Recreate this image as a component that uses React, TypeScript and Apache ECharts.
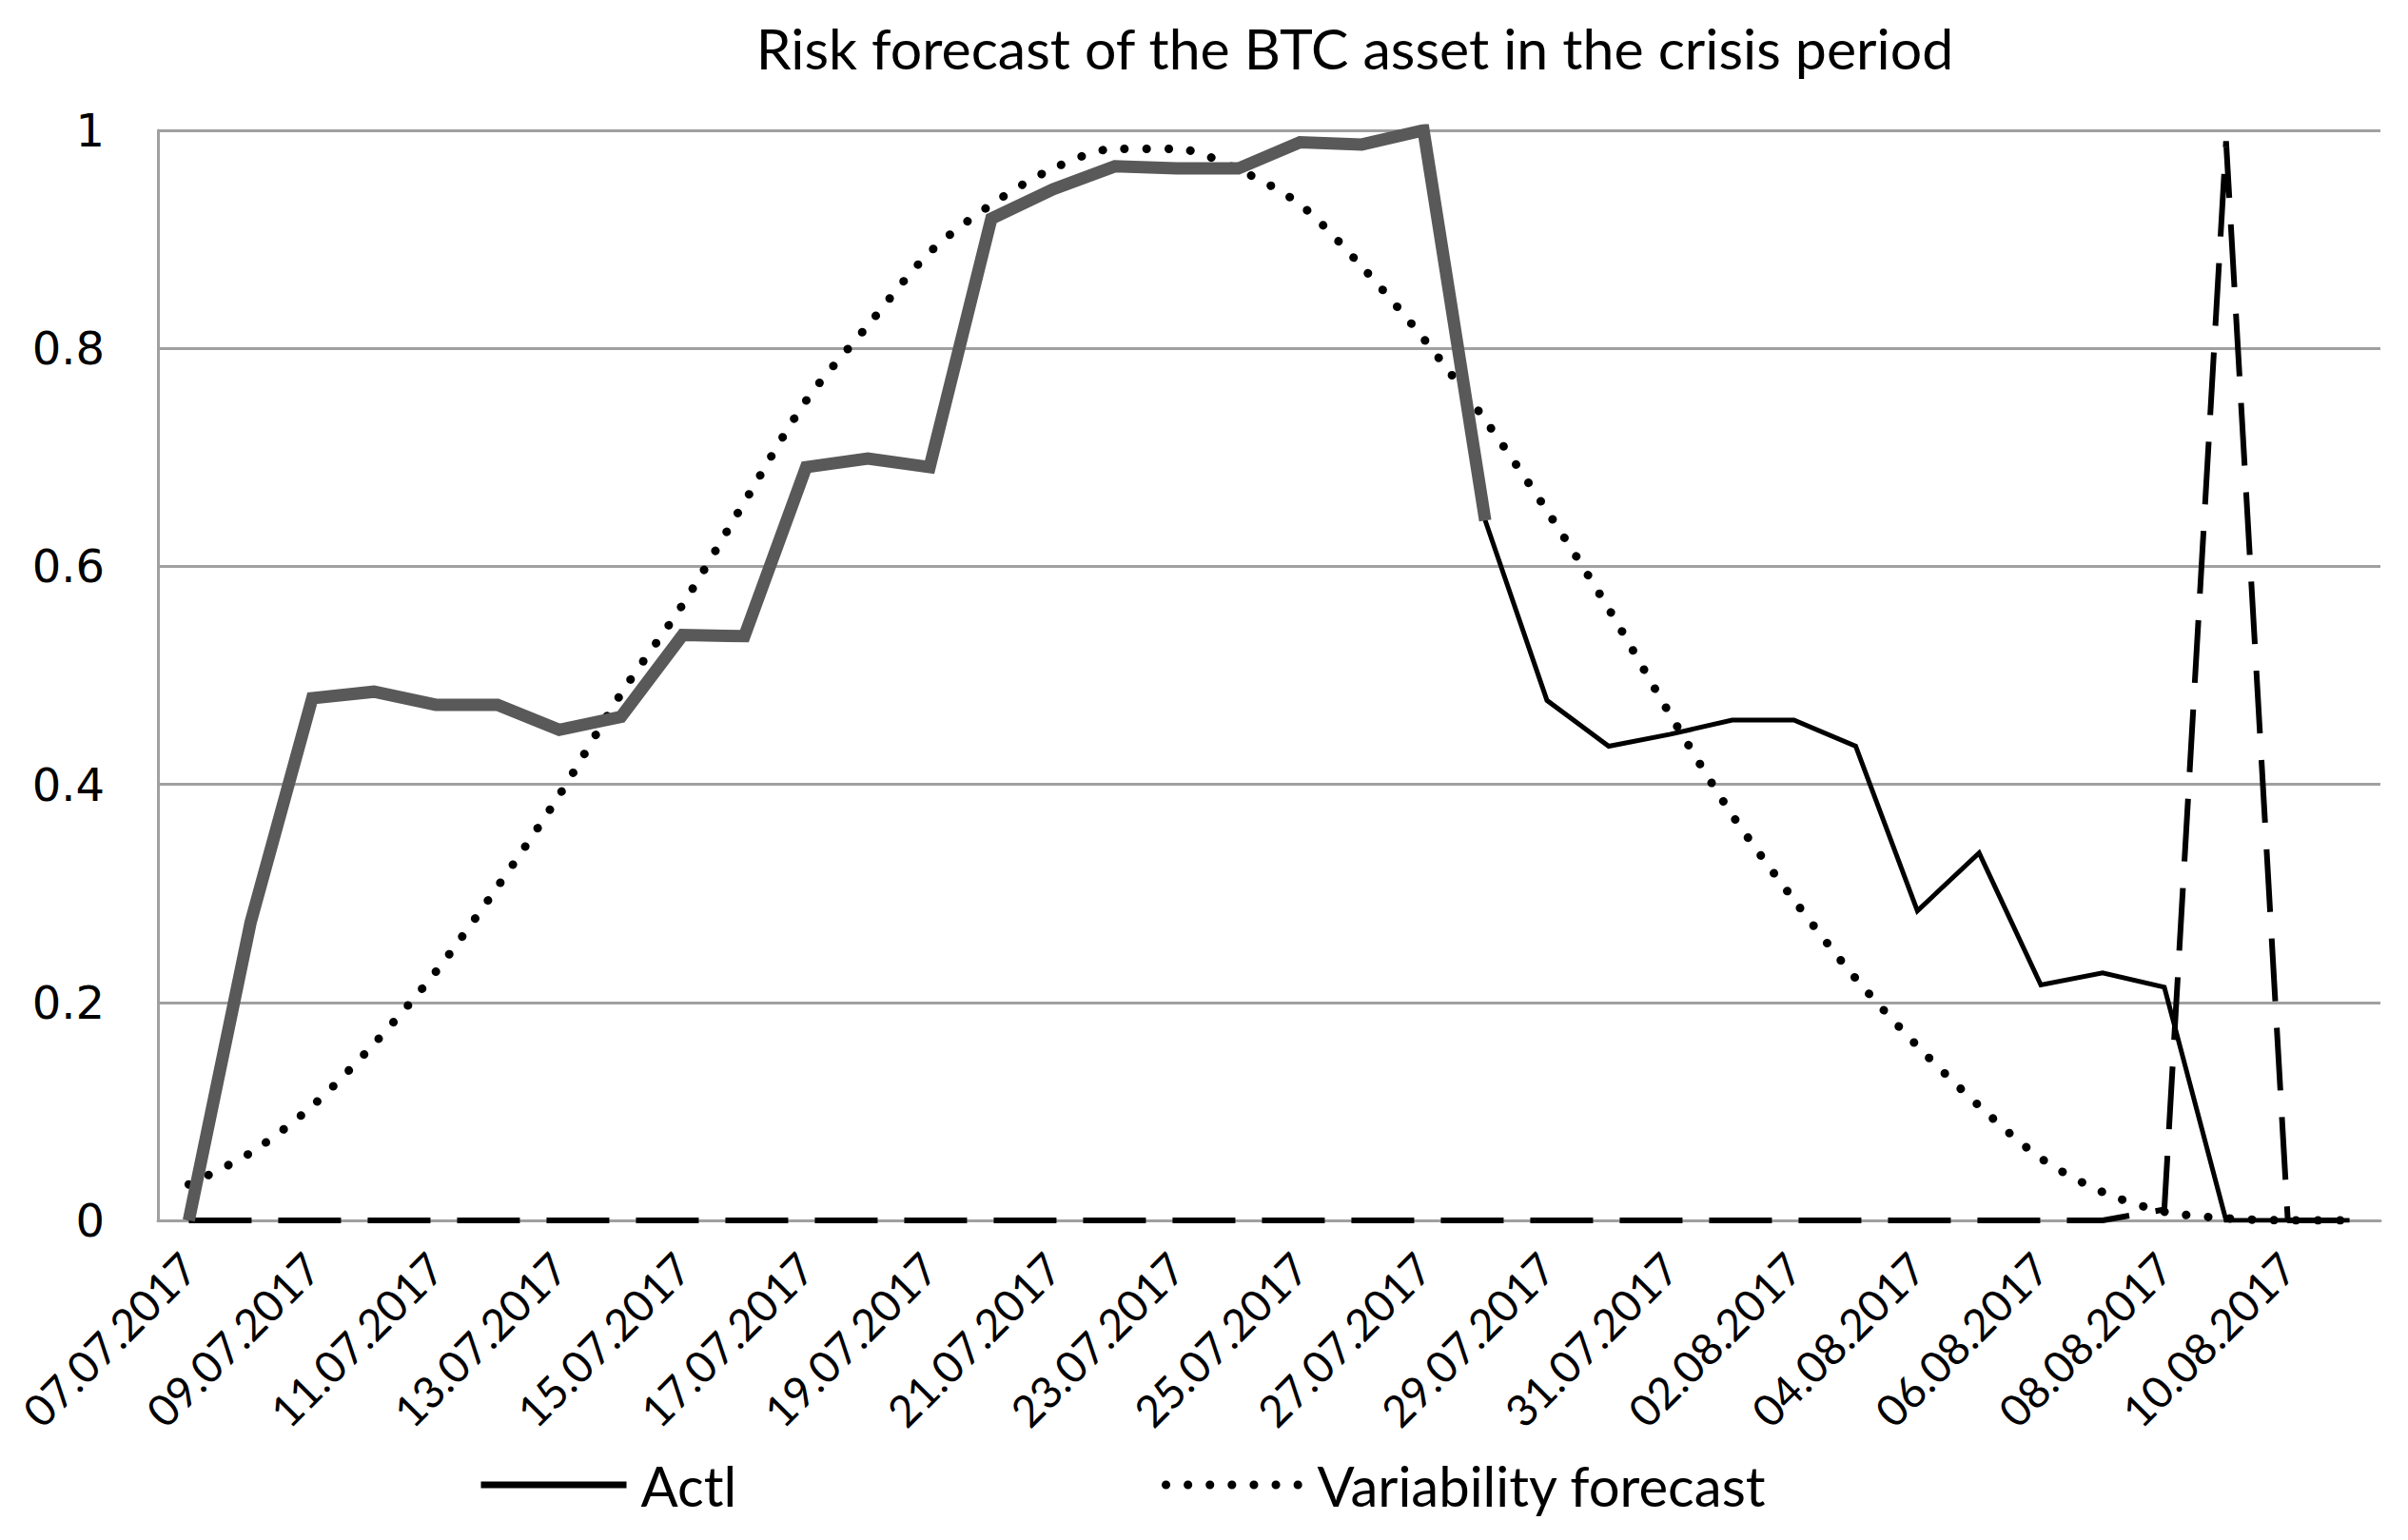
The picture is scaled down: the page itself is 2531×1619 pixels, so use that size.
import React, { useEffect, useRef } from 'react';
import * as echarts from 'echarts';

const categories = [
  '07.07.2017', '08.07.2017', '09.07.2017', '10.07.2017', '11.07.2017', '12.07.2017',
  '13.07.2017', '14.07.2017', '15.07.2017', '16.07.2017', '17.07.2017', '18.07.2017',
  '19.07.2017', '20.07.2017', '21.07.2017', '22.07.2017', '23.07.2017', '24.07.2017',
  '25.07.2017', '26.07.2017', '27.07.2017', '28.07.2017', '29.07.2017', '30.07.2017',
  '31.07.2017', '01.08.2017', '02.08.2017', '03.08.2017', '04.08.2017', '05.08.2017',
  '06.08.2017', '07.08.2017', '08.08.2017', '09.08.2017', '10.08.2017', '11.08.2017',
];

// Actual risk (thin black line)
const actlValues = [
  0, 0.273, 0.479, 0.485, 0.473, 0.473, 0.45, 0.462, 0.537, 0.536, 0.691, 0.699,
  0.691, 0.919, 0.946, 0.967, 0.965, 0.965, 0.989, 0.987, 1.0, 0.642, 0.477, 0.435,
  0.446, 0.459, 0.459, 0.435, 0.284, 0.337, 0.216, 0.227, 0.214, 0, 0, 0,
];

// Crisis period of the actual risk (thick grey line)
const crisisValues = [
  0, 0.273, 0.479, 0.485, 0.473, 0.473, 0.45, 0.462, 0.537, 0.536, 0.691, 0.699,
  0.691, 0.919, 0.946, 0.967, 0.965, 0.965, 0.989, 0.987, 1.0, 0.642,
];

// Variability forecast (dotted)
const variabilityValues = [
  0.033, 0.062, 0.105, 0.162, 0.228, 0.306, 0.39, 0.483, 0.565, 0.659, 0.752, 0.821,
  0.888, 0.932, 0.965, 0.983, 0.983, 0.964, 0.932, 0.875, 0.809, 0.734, 0.651, 0.561,
  0.4635, 0.372, 0.294, 0.222, 0.16, 0.105, 0.057, 0.026, 0.008, 0.002, 0, 0,
];

// Second forecast (dashed)
const spikeValues = [
  0, 0, 0, 0, 0, 0, 0, 0, 0, 0, 0, 0,
  0, 0, 0, 0, 0, 0, 0, 0, 0, 0, 0, 0,
  0, 0, 0, 0, 0, 0, 0, 0, 0.01, 0.99, 0, 0,
];

const titleText = 'Risk forecast of the BTC asset in the crisis period';

export default function App() {
  const ref = useRef<HTMLDivElement>(null);

  useEffect(() => {
    const chart = echarts.init(ref.current!, null, { renderer: 'svg' });
    const gridColor = '#a0a0a0';
    const textFont = 'Lato';
    chart.setOption({
      animation: false,
      backgroundColor: '#ffffff',
      graphic: [
        {
          type: 'text',
          style: {
            text: titleText,
            x: 1424,
            y: 50,
            align: 'center',
            verticalAlign: 'middle',
            fontFamily: textFont,
            fontSize: 59,
            fill: '#000000',
          },
        },
      ],
      grid: { left: 166, right: 29, top: 137, bottom: 336, containLabel: false },
      legend: [
        {
          data: ['Actl'],
          left: 497,
          top: 1524,
          itemWidth: 153,
          itemHeight: 14,
          itemStyle: { opacity: 0 },
          lineStyle: { width: 7, color: '#000' },
          textStyle: { fontFamily: textFont, fontSize: 58, color: '#000', padding: [0, 0, 0, 10], lineHeight: 64 },
        },
        {
          data: ['Variability forecast'],
          left: 1216,
          top: 1524,
          itemWidth: 150,
          itemHeight: 14,
          itemStyle: { opacity: 0 },
          lineStyle: { width: 9, color: '#000' },
          textStyle: { fontFamily: textFont, fontSize: 58, color: '#000', padding: [0, 0, 0, 4], lineHeight: 64 },
        },
      ],
      xAxis: {
        type: 'category',
        data: categories,
        boundaryGap: true,
        axisLine: { show: true, lineStyle: { color: gridColor, width: 3 } },
        axisTick: { show: false },
        axisLabel: {
          interval: 1,
          rotate: 45,
          margin: 42,
          fontFamily: textFont,
          fontSize: 46,
          color: '#000',
        },
        splitLine: { show: false },
      },
      yAxis: {
        type: 'value',
        min: 0,
        max: 1,
        interval: 0.2,
        axisLine: { show: true, lineStyle: { color: gridColor, width: 3 } },
        axisTick: { show: false },
        axisLabel: {
          margin: 56,
          fontFamily: 'DejaVu Sans',
          fontSize: 48,
          color: '#000',
        },
        splitLine: { show: true, lineStyle: { color: gridColor, width: 3 } },
      },
      series: [
        {
          name: 'Actl',
          type: 'line',
          data: actlValues,
          symbol: 'none',
          z: 2,
          lineStyle: { color: '#000000', width: 5, cap: 'butt', join: 'miter' },
          itemStyle: { color: '#000000' },
        },
        {
          name: 'Variability forecast',
          type: 'line',
          data: variabilityValues,
          symbol: 'none',
          smooth: 0.3,
          z: 3,
          lineStyle: { color: '#000000', width: 9, type: [0.1, 23], cap: 'round' },
          itemStyle: { color: '#000000' },
        },
        {
          name: 'Forecast',
          type: 'line',
          data: spikeValues,
          symbol: 'none',
          z: 4,
          lineStyle: { color: '#000000', width: 6, type: [66, 28], cap: 'butt' },
          itemStyle: { color: '#000000' },
        },
        {
          name: 'Crisis',
          type: 'line',
          data: crisisValues,
          symbol: 'none',
          z: 5,
          lineStyle: { color: '#595959', width: 13, cap: 'butt', join: 'miter' },
          itemStyle: { color: '#595959' },
        },
      ],
    });
    return () => chart.dispose();
  }, []);

  return (
    <div
      ref={ref}
      style={{ position: 'fixed', left: 0, top: 0, width: 2531, height: 1619, background: '#fff' }}
    />
  );
}
